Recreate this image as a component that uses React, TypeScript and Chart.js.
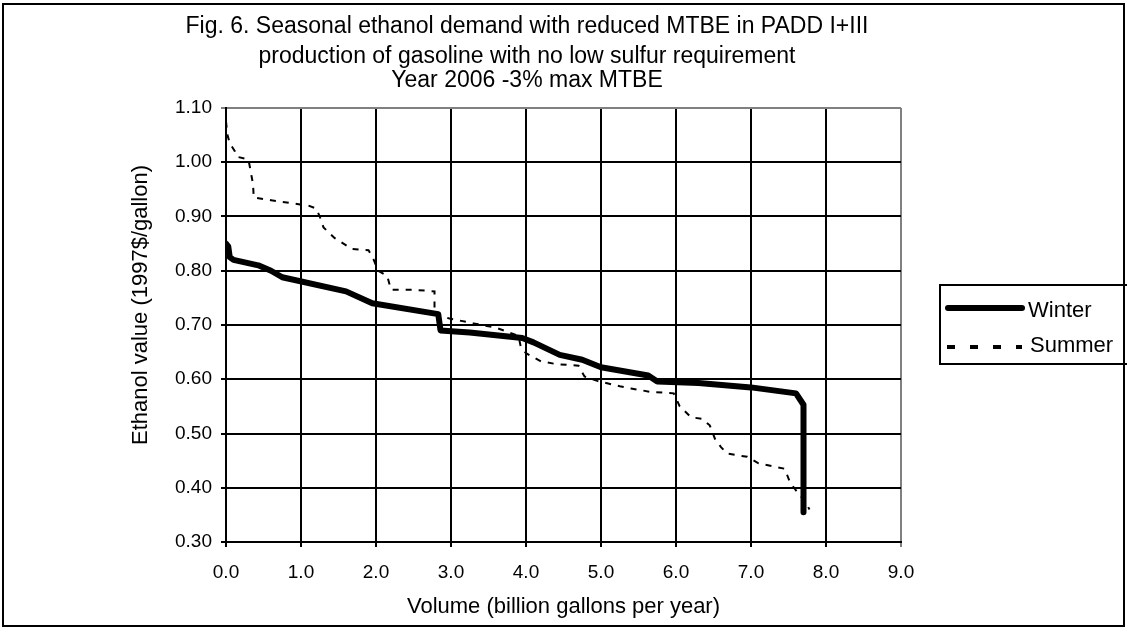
import React, { useEffect, useRef } from "react";
import { Chart, registerables } from "chart.js";

Chart.register(...registerables);

const titleLines = [
  "Fig. 6. Seasonal ethanol demand with reduced MTBE in PADD I+III",
  "production of gasoline with no low sulfur requirement",
  "Year 2006 -3% max MTBE",
];
const xAxisTitle = "Volume (billion gallons per year)";
const yAxisTitle = "Ethanol value (1997$/gallon)";
const seriesNames = ["Winter", "Summer"];

const winterX = [0.0, 0.03, 0.05, 0.1, 0.43, 0.6, 0.75, 1.6, 1.95, 2.83, 2.86, 3.25, 3.95, 4.1, 4.45, 4.75, 5.0, 5.63, 5.75, 6.3, 7.0, 7.6, 7.7, 7.7];
const winterY = [0.85, 0.845, 0.825, 0.82, 0.81, 0.8, 0.788, 0.762, 0.74, 0.72, 0.69, 0.686, 0.676, 0.668, 0.645, 0.636, 0.622, 0.607, 0.596, 0.593, 0.585, 0.574, 0.553, 0.355];

const summerX = [0.0, 0.02, 0.05, 0.12, 0.15, 0.3, 0.32, 0.36, 0.37, 0.6, 0.85, 1.1, 1.2, 1.25, 1.3, 1.45, 1.68, 1.9, 1.97, 2.03, 2.15, 2.2, 2.5, 2.78, 2.78, 2.98, 3.3, 3.6, 3.9, 3.93, 4.0, 4.2, 4.4, 4.7, 4.78, 4.95, 5.25, 5.4, 5.65, 5.97, 6.05, 6.2, 6.35, 6.45, 6.52, 6.6, 6.68, 6.95, 7.1, 7.45, 7.52, 7.6, 7.72, 7.78];
const summerY = [1.075, 1.05, 1.035, 1.02, 1.01, 1.005, 0.99, 0.96, 0.935, 0.93, 0.925, 0.92, 0.915, 0.9, 0.88, 0.86, 0.84, 0.838, 0.82, 0.8, 0.79, 0.765, 0.765, 0.762, 0.72, 0.712, 0.703, 0.695, 0.68, 0.66, 0.648, 0.633, 0.628, 0.625, 0.605, 0.597, 0.587, 0.583, 0.577, 0.574, 0.55, 0.53, 0.527, 0.515, 0.49, 0.475, 0.463, 0.457, 0.445, 0.435, 0.41, 0.395, 0.375, 0.36];

const xMin = 0;
const xMax = 9;
const xStep = 1;
const yMin = 0.3;
const yMax = 1.1;
const yStep = 0.1;

const FONT = "'Liberation Sans', Arial, sans-serif";

const decorPlugin = {
  id: "decor",
  afterDraw(chart: any) {
    const ctx = chart.ctx as CanvasRenderingContext2D;
    ctx.save();
    // outer frame
    ctx.strokeStyle = "#000";
    ctx.lineWidth = 2;
    ctx.setLineDash([]);
    ctx.strokeRect(3, 4, 1121, 622);

    // title
    ctx.fillStyle = "#000";
    ctx.font = `23px ${FONT}`;
    ctx.textAlign = "center";
    ctx.textBaseline = "alphabetic";
    const baselines = [33, 63, 87];
    titleLines.forEach((t, i) => ctx.fillText(t, 527, baselines[i]));

    // y axis title
    ctx.save();
    ctx.translate(141, 305);
    ctx.rotate(-Math.PI / 2);
    ctx.font = `22px ${FONT}`;
    ctx.textBaseline = "middle";
    ctx.textAlign = "center";
    ctx.fillText(yAxisTitle, 0, 0);
    ctx.restore();

    // legend
    const ds = chart.data.datasets;
    ctx.lineWidth = 2;
    ctx.strokeStyle = "#000";
    ctx.strokeRect(940, 285, 200, 79);
    ctx.font = `22px ${FONT}`;
    ctx.textAlign = "left";
    ctx.textBaseline = "middle";
    // winter
    ctx.beginPath();
    ctx.lineCap = "round";
    ctx.lineWidth = ds[0].borderWidth;
    ctx.strokeStyle = ds[0].borderColor;
    ctx.moveTo(948, 308);
    ctx.lineTo(1022, 308);
    ctx.stroke();
    ctx.fillText(ds[0].label, 1028, 311);
    // summer
    ctx.beginPath();
    ctx.lineCap = "butt";
    ctx.lineWidth = 4;
    ctx.setLineDash([8, 15]);
    ctx.strokeStyle = ds[1].borderColor;
    ctx.moveTo(947, 347);
    ctx.lineTo(1022, 347);
    ctx.stroke();
    ctx.setLineDash([]);
    ctx.fillText(ds[1].label, 1030, 346);
    ctx.restore();
  },
};

export default function App() {
  const canvasRef = useRef<HTMLCanvasElement | null>(null);

  useEffect(() => {
    document.body.style.margin = "0";
    const canvas = canvasRef.current;
    if (!canvas) return;
    const chart = new Chart(canvas, {
      type: "line",
      data: {
        datasets: [
          {
            label: seriesNames[0],
            data: winterX.map((x, i) => ({ x, y: winterY[i] })),
            borderColor: "#000",
            borderWidth: 6,
            pointRadius: 0,
            tension: 0,
            borderJoinStyle: "round",
            borderCapStyle: "round",
            fill: false,
          },
          {
            label: seriesNames[1],
            data: summerX.map((x, i) => ({ x, y: summerY[i] })),
            borderColor: "#000",
            borderWidth: 2,
            borderDash: [6, 7],
            pointRadius: 0,
            tension: 0,
            fill: false,
          },
        ],
      },
      options: {
        responsive: false,
        animation: false,
        devicePixelRatio: 1,
        layout: { padding: { top: 108, right: 226, bottom: 0, left: 0 } },
        plugins: {
          legend: { display: false },
          title: { display: false },
          tooltip: { enabled: false },
        },
        scales: {
          x: {
            type: "linear",
            min: xMin,
            max: xMax,
            afterFit: (s: any) => {
              s.height = 86;
            },
            ticks: {
              stepSize: xStep,
              color: "#000",
              padding: 14,
              font: { family: FONT, size: 19 },
              callback: (v: any) => Number(v).toFixed(1),
              maxRotation: 0,
            },
            grid: {
              color: (c: any) => (c.tick && Math.abs(c.tick.value - xMax) < 1e-6 ? "#808080" : "#000"),
              lineWidth: 2,
              tickLength: 5,
            },
            border: { display: true, color: "#000", width: 2 },
            title: {
              display: true,
              text: xAxisTitle,
              color: "#000",
              font: { family: FONT, size: 22 },
              padding: { top: 0, bottom: 8 },
            },
          },
          y: {
            type: "linear",
            min: yMin,
            max: yMax,
            afterFit: (s: any) => {
              s.width = 226;
            },
            ticks: {
              stepSize: yStep,
              color: "#000",
              padding: 9,
              font: { family: FONT, size: 19 },
              callback: (v: any) => Number(v).toFixed(2),
            },
            grid: {
              color: (c: any) => (c.tick && Math.abs(c.tick.value - yMax) < 1e-6 ? "#808080" : "#000"),
              lineWidth: 2,
              tickLength: 5,
            },
            border: { display: true, color: "#000", width: 2 },
          },
        },
      },
      plugins: [decorPlugin],
    });
    return () => chart.destroy();
  }, []);

  return (
    <div style={{ width: 1127, height: 628, position: "relative", background: "#fff" }}>
      <canvas ref={canvasRef} width={1127} height={628} style={{ display: "block" }} />
    </div>
  );
}
